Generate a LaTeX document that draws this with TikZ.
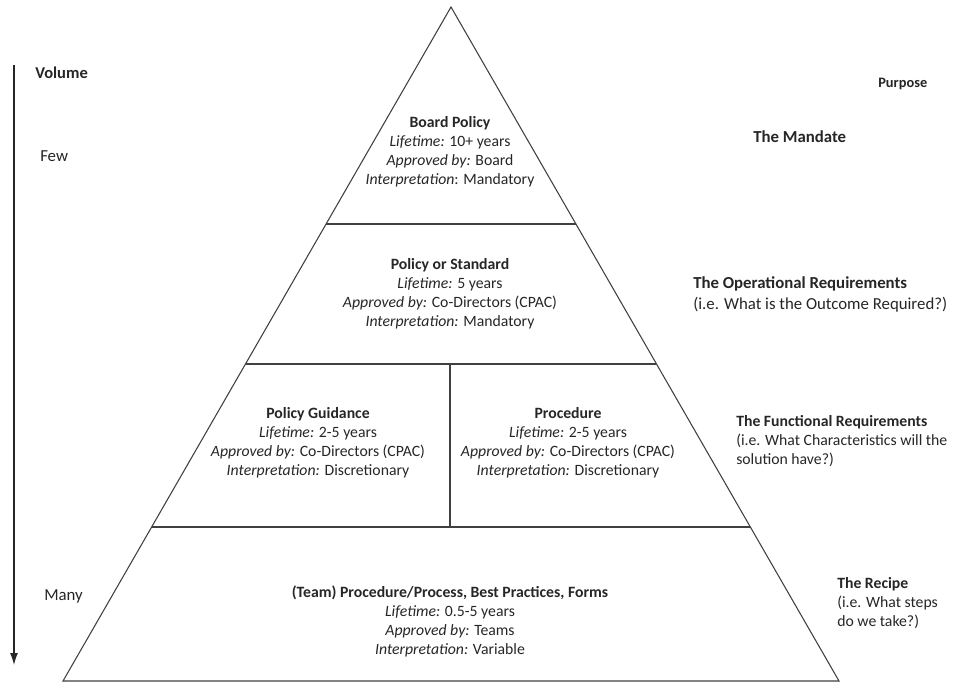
\documentclass[tikz,border=0pt]{standalone}
\usepackage{fontspec}
\setmainfont{Carlito}
\usetikzlibrary{positioning,arrows.meta}

\begin{document}
\begin{tikzpicture}[x=0.75pt, y=-0.75pt,
  every node/.style = {align=center, inner sep=0pt, text=black!85,
    font=\fontsize{11.8}{14.25}\selectfont},
  purpose/.style = {align=left, anchor=west,
    font=\fontsize{11.8}{14.25}\selectfont},
  edgeline/.style = {draw=black!75, line width=0.8pt}]
  \useasboundingbox (0,0) rectangle (971,682);
  % pyramid
  \coordinate (top) at (451,7);
  \coordinate (bl) at (63,681);
  \coordinate (br) at (839,681);
  \coordinate (l1) at (326,224);
  \coordinate (r1) at (576,224);
  \coordinate (l2) at (246,364);
  \coordinate (r2) at (656,364);
  \coordinate (l3) at (152,527);
  \coordinate (r3) at (750,527);
  \coordinate (m2) at (450,364);
  \coordinate (m3) at (450,527);
  \draw[edgeline] (top) -- (bl) -- (br) -- cycle;
  \draw[edgeline] (l1) -- (r1);
  \draw[edgeline] (l2) -- (r2);
  \draw[edgeline] (l3) -- (r3);
  \draw[edgeline] (m2) -- (m3);
  % levels
  \node (board) at (450,152) {\textbf{Board Policy}\\
    \textit{Lifetime:} 10+ years\\
    \textit{Approved by:} Board\\
    \textit{Interpretation}: Mandatory};
  \node (standard) at (450,294) {\textbf{Policy or Standard}\\
    \textit{Lifetime:} 5 years\\
    \textit{Approved by:} Co-Directors (CPAC)\\
    \textit{Interpretation:} Mandatory};
  \node (guidance) at (318,442.5) {\textbf{Policy Guidance}\\
    \textit{Lifetime:} 2-5 years\\
    \textit{Approved by:} Co-Directors (CPAC)\\
    \textit{Interpretation:} Discretionary};
  \node (procedure) at (568,442.5) {\textbf{Procedure}\\
    \textit{Lifetime:} 2-5 years\\
    \textit{Approved by:} Co-Directors (CPAC)\\
    \textit{Interpretation:} Discretionary};
  \node (team) at (450,621.5) {\textbf{(Team) Procedure/Process, Best Practices, Forms}\\
    \textit{Lifetime:} 0.5-5 years\\
    \textit{Approved by:} Teams\\
    \textit{Interpretation:} Variable};
  % volume axis
  \coordinate (vtop) at (14,65);
  \coordinate (vbot) at (14,665);
  \draw[black!85, line width=1pt, -{Latex[length=9pt,width=6pt]}] (vtop) -- (vbot);
  \node[anchor=west, font=\fontsize{12.4}{14}\selectfont\bfseries] (volume) at (35,73) {Volume};
  \node[anchor=west, font=\fontsize{12.6}{14}\selectfont] (few) at (40,156) {Few};
  \node[anchor=west, font=\fontsize{12.6}{14}\selectfont] (many) at (44,596) {Many};
  % purpose column
  \node[anchor=west, font=\fontsize{10.8}{12}\selectfont\bfseries] (purpose) at (878,84) {Purpose};
  \node[purpose, font=\fontsize{12.6}{14.4}\selectfont] (mandate) at (753,137) {\textbf{The Mandate}};
  \node[purpose, font=\fontsize{12.6}{15.6}\selectfont] (operational) at (693,294.5) {\textbf{The Operational Requirements}\\
    (i.e. What is the Outcome Required?)};
  \node[purpose] (functional) at (736,441) {\textbf{The Functional Requirements}\\
    (i.e. What Characteristics will the\\
    solution have?)};
  \node[purpose] (recipe) at (837,603) {\textbf{The Recipe}\\
    (i.e. What steps\\
    do we take?)};
\end{tikzpicture}
\end{document}
